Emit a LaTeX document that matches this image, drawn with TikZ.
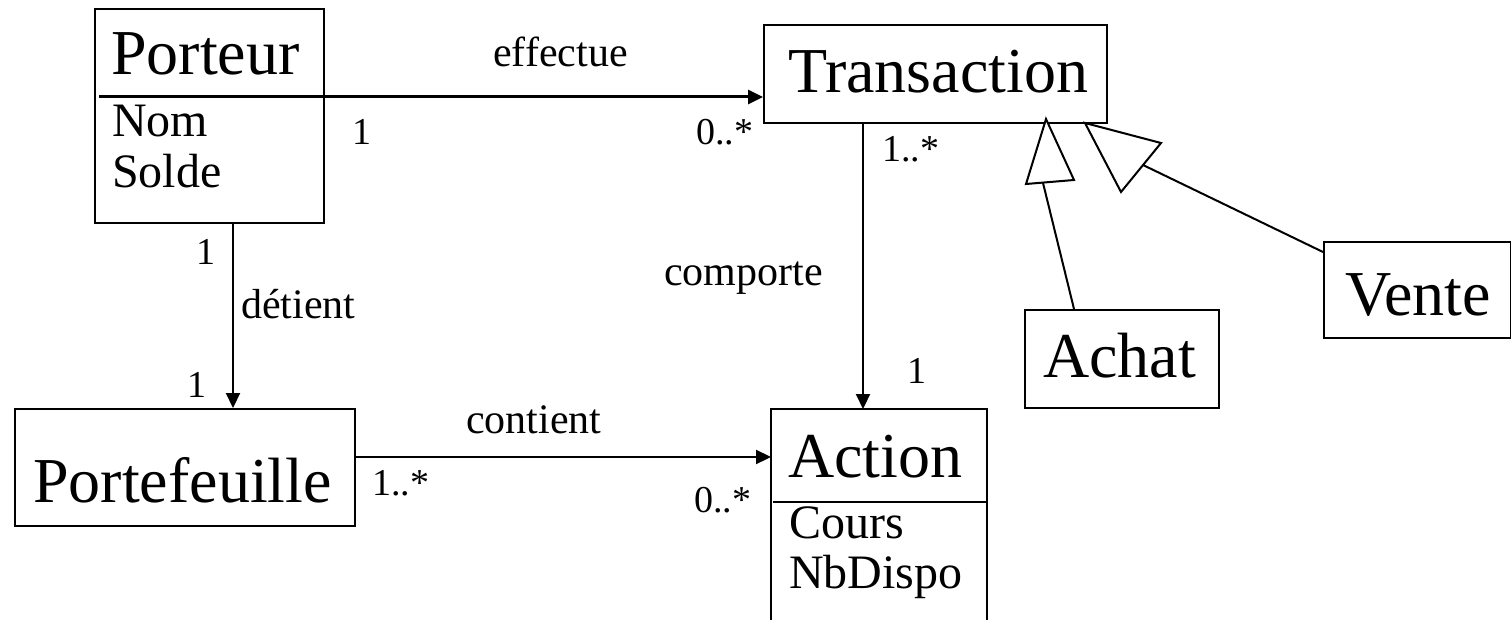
\documentclass[tikz,border=0pt]{standalone}
\usepackage{fontspec}
\setmainfont{Liberation Serif}
\usetikzlibrary{arrows.meta,calc}

\tikzset{
  box/.style={draw, line width=2pt, inner sep=0pt, anchor=north west},
  frame/.style={inner sep=0pt, anchor=north west},
  cname/.style={font=\fontsize{64}{70}\selectfont, anchor=base west, inner sep=0pt},
  attr/.style={font=\fontsize{48}{54}\selectfont, anchor=base west, inner sep=0pt},
  role/.style={font=\fontsize{42}{48}\selectfont, anchor=base west, inner sep=0pt},
  mult/.style={font=\fontsize{38}{42}\selectfont, anchor=base west, inner sep=0pt},
  assoc/.style={line width=2.2pt, -{Triangle[length=15pt,width=14pt]}},
  gen/.style={line width=2pt},
  tri/.style={line width=2pt, fill=white, line join=miter},
}

\begin{document}
\begin{tikzpicture}[x=1pt,y=-1pt]
\useasboundingbox (0,0) rectangle (1511,620);

% class boxes
\node[box, minimum width=229pt, minimum height=214pt] (porteur) at (94,8) {};
\node[box, minimum width=343pt, minimum height=98pt] (trans) at (763,24) {};
\node[box, minimum width=340pt, minimum height=117pt] (portef) at (14,408) {};
\node[frame, minimum width=216pt, minimum height=215pt] (action) at (771,409) {};
\node[box, minimum width=194pt, minimum height=98pt] (achat) at (1024,309) {};
\node[box, minimum width=187pt, minimum height=96pt] (vente) at (1323,241) {};

% Action box is open at the bottom
\draw[line width=2pt] (action.south west) -- (action.north west)
  -- (action.north east) -- (action.south east);

% class names and attributes
\node[cname] (tporteur) at (111,75) {Porteur};
\node[attr] (tnom) at (112,137) {Nom};
\node[attr] (tsolde) at (112,188) {Solde};
\node[cname] (ttrans) at (788,93) {Transaction};
\node[cname] (tportef) at (33,502) {Portefeuille};
\node[cname] (taction) at (788,477) {Action};
\node[attr] (tcours) at (789,538) {Cours};
\node[attr] (tnb) at (789,588) {NbDispo};
\node[cname] (tachat) at (1043,377) {Achat};
\node[cname] (tvente) at (1345,315) {Vente};

% Action attribute divider
\coordinate (adiv) at (0,502);
\draw[line width=2pt] ($(action.west |- adiv)+(2,0)$) -- ($(action.east |- adiv)+(1,0)$);

% effectue (also the divider of Porteur)
\coordinate (eff) at (99,97);
\draw[line width=3pt, -{Triangle[length=15pt,width=14pt]}] (eff) -- (trans.west |- eff);

% detient
\coordinate (det) at (233,0);
\draw[assoc] (porteur.south -| det) -- (portef.north -| det);

% contient
\coordinate (cont) at (0,457);
\draw[assoc] (portef.east |- cont) -- (action.west |- cont);

% comporte
\coordinate (comp) at (863,0);
\draw[assoc] (trans.south -| comp) -- (action.north -| comp);

% generalisation Achat -> Transaction
\coordinate (a1) at (1046,119);
\coordinate (a2) at (1026,184);
\coordinate (a3) at (1074,180);
\coordinate (abase) at (1043,183);
\coordinate (afoot) at (1074,0);
\draw[gen] (achat.north -| afoot) -- (abase);
\draw[tri] (a1) -- (a2) -- (a3) -- cycle;

% generalisation Vente -> Transaction
\coordinate (v1) at (1085,123);
\coordinate (v2) at (1161,143);
\coordinate (v3) at (1121,192);
\coordinate (vbase) at (1143,165);
\coordinate (vfoot) at (0,252);
\draw[gen] (vente.west |- vfoot) -- (vbase);
\draw[tri] (v1) -- (v2) -- (v3) -- cycle;

% association names and multiplicities
\node[role] (leff) at (493,67) {effectue};
\node[mult] (m1) at (352,145) {1};
\node[mult] (m2) at (696,145) {0..*};
\node[mult] (m3) at (882,162) {1..*};
\node[mult] (m4) at (196,265) {1};
\node[role] (ldet) at (241,318) {détient};
\node[mult] (m5) at (187,397) {1};
\node[role] (lcont) at (466,433) {contient};
\node[mult] (m6) at (372,495) {1..*};
\node[mult] (m7) at (694,512) {0..*};
\node[role] (lcomp) at (664,285) {comporte};
\node[mult] (m8) at (907,383) {1};
\end{tikzpicture}
\end{document}
